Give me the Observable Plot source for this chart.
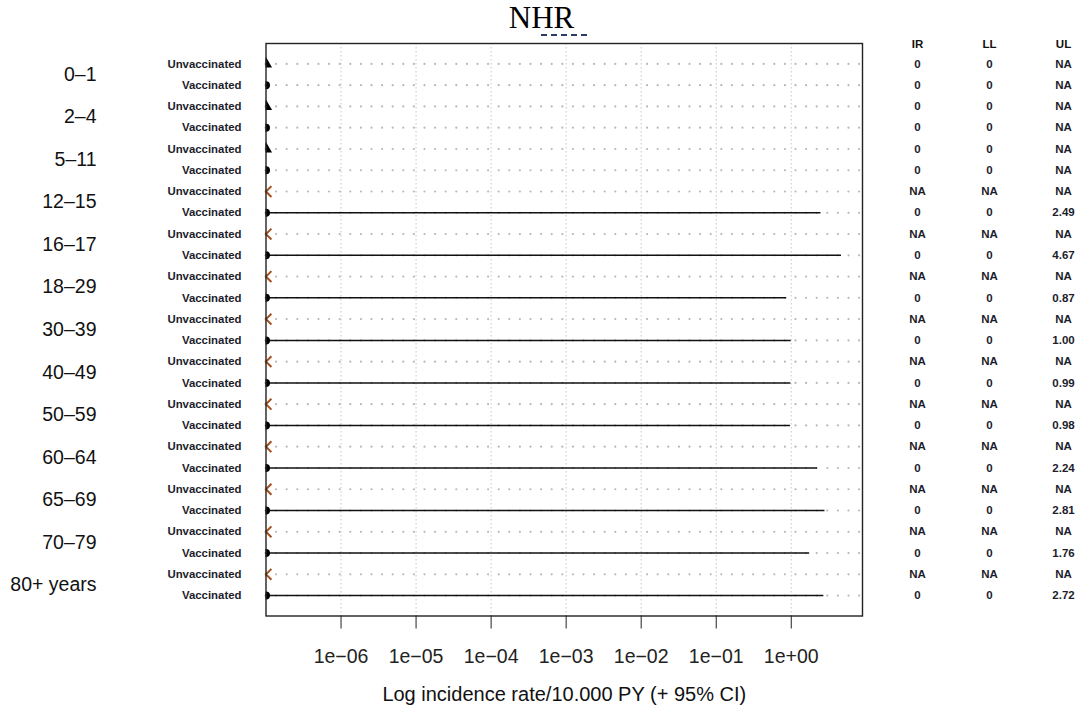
<!DOCTYPE html>
<html>
<head>
<meta charset="utf-8">
<script src="https://cdn.jsdelivr.net/npm/d3@7"></script>
<script src="https://cdn.jsdelivr.net/npm/@observablehq/plot@0.6"></script>
<style>
  html, body { margin: 0; padding: 0; background: #fff; }
  #wrap { position: relative; width: 1085px; height: 717px; }
  #title { position: absolute; left: 0; width: 1085px; top: 0px; text-align: center;
           font-family: "Liberation Serif", "Times New Roman", serif; font-size: 31px; line-height: 36px; color: #000; }
  #title span { position: relative; left: -1px; }
  #dash { position: absolute; left: 541px; top: 34px; width: 46px; border-top: 2px dashed #2b3a67; }
</style>
</head>
<body>
<div id="wrap">
  <div id="chart"></div>
  <div id="title"><span>NHR</span></div>
  <div id="dash"></div>
</div>
<script>
const ages = ["0–1","2–4","5–11","12–15","16–17","18–29","30–39","40–49","50–59","60–64","65–69","70–79","80+ years"];
const groups = ["Unvaccinated","Vaccinated"];
const irUnvacc = [0,0,0,null,null,null,null,null,null,null,null,null,null];
const llUnvacc = [0,0,0,null,null,null,null,null,null,null,null,null,null];
const ulUnvacc = [null,null,null,null,null,null,null,null,null,null,null,null,null];
const irVacc = [0,0,0,0,0,0,0,0,0,0,0,0,0];
const llVacc = [0,0,0,0,0,0,0,0,0,0,0,0,0];
const ulVacc = [null,null,null,2.49,4.67,0.87,1.00,0.99,0.98,2.24,2.81,1.76,2.72];
const xTicks = [1e-6,1e-5,1e-4,1e-3,1e-2,1e-1,1e0];
const tableCols = ["IR","LL","UL"];
const axisTitle = "Log incidence rate/10.000 PY (+ 95% CI)";

const xMin = 1e-7, xMax = 8.9;
const rows = [];
ages.forEach((age, k) => {
  rows.push({i: 2*k, age, group: groups[0], ir: irUnvacc[k], ll: llUnvacc[k], ul: ulUnvacc[k]});
  rows.push({i: 2*k+1, age, group: groups[1], ir: irVacc[k], ll: llVacc[k], ul: ulVacc[k]});
});
const clampX = v => Math.max(v ?? 0, xMin);
const fmt = v => v == null ? "NA" : (v === 0 ? "0" : v.toFixed(2));
const tickFmt = d => { const e = Math.round(Math.log10(d)); return "1e" + (e < 0 ? "\u2212" : "+") + String(Math.abs(e)).padStart(2, "0"); };

const symOf = d => d.group === "Vaccinated" ? "circle" : (d.ir == null ? "times" : "triangle");
const font = "Liberation Sans, Arial, Helvetica, sans-serif";

const colKeys = ["ir", "ll", "ul"];
const colDx = [55, 127, 201];

const tableMarks = colKeys.flatMap((key, j) => [
  Plot.text(rows, {y: "i", text: d => fmt(d[key]), frameAnchor: "right", dx: colDx[j], textAnchor: "middle", fontSize: 11.5, fontWeight: "bold", fill: "#1d1d2b"}),
  Plot.text([tableCols[j]], {y: -0.91, text: d => d, frameAnchor: "right", dx: colDx[j], textAnchor: "middle", fontSize: 11.5, fontWeight: "bold", fill: "#111"})
]);

const plot = Plot.plot({
  width: 1085,
  height: 717,
  marginLeft: 265.5,
  marginRight: 223,
  marginTop: 43,
  marginBottom: 101.5,
  style: {fontFamily: font, background: "#fff", overflow: "visible"},
  x: {type: "log", domain: [xMin, xMax], axis: null},
  y: {type: "linear", domain: [-0.96, 25.96], reverse: true, axis: null},
  marks: [
    Plot.ruleX(xTicks, {x: d => d, stroke: "#c8c8c8", strokeWidth: 1, strokeDasharray: "1.5,2.5"}),
    Plot.ruleY(rows, {y: "i", stroke: "#b8b8b8", strokeWidth: 2.2, strokeLinecap: "round", strokeDasharray: "0,10.6"}),
    Plot.ruleY(rows.filter(d => d.ul != null), {y: "i", x1: d => clampX(d.ll), x2: "ul", stroke: "#111", strokeWidth: 1.5}),
    Plot.dot(rows.filter(d => symOf(d) === "circle"), {x: d => clampX(d.ir), y: "i", symbol: "circle", r: 4, fill: "#000", clip: true}),
    Plot.dot(rows.filter(d => symOf(d) === "triangle"), {x: d => clampX(d.ir), y: "i", symbol: "triangle", r: 4.5, fill: "#000", clip: true}),
    Plot.dot(rows.filter(d => symOf(d) === "times"), {x: d => clampX(d.ir), y: "i", symbol: "times", r: 5, stroke: "#a5501c", strokeWidth: 2, clip: true}),
    Plot.frame({stroke: "#222", strokeWidth: 1.4}),
    Plot.axisX({ticks: xTicks, tickFormat: tickFmt, tickSize: 13, tickPadding: 20, fontSize: 19.5, stroke: "#222", fill: "#222", label: null}),
    Plot.text(rows, {y: "i", text: "group", frameAnchor: "left", dx: -24.5, textAnchor: "end", fontSize: 11.4, fontWeight: "bold", fill: "#1d1d2b"}),
    Plot.text(rows.filter(d => d.group === "Unvaccinated"), {y: d => d.i + 0.5, text: "age", frameAnchor: "left", dx: -169.5, textAnchor: "end", fontSize: 19.5, fill: "#111"}),
    ...tableMarks,
    Plot.text([axisTitle], {text: d => d, frameAnchor: "bottom", dy: 85, fontSize: 20, fill: "#111"})
  ]
});
document.getElementById("chart").appendChild(plot);
</script>
</body>
</html>
